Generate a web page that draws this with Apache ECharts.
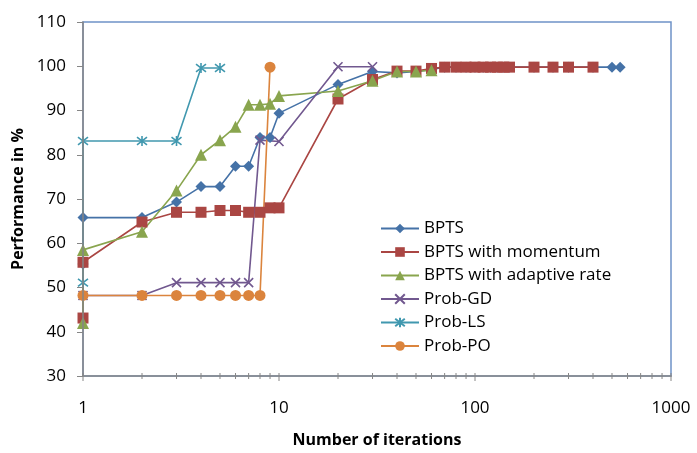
<!DOCTYPE html>
<html>
<head>
<meta charset="utf-8">
<script src="https://cdn.jsdelivr.net/npm/echarts@6/dist/echarts.min.js"></script>
<style>
  html, body { margin: 0; padding: 0; background: #fff; }
  #chart { width: 697px; height: 453px; }
</style>
</head>
<body>
<div id="chart"></div>
<script>
// ---- data ----
const seriesNames = ['BPTS', 'BPTS with momentum', 'BPTS with adaptive rate', 'Prob-GD', 'Prob-LS', 'Prob-PO'];

const xBPTS = [1, 1, 2, 3, 4, 5, 6, 7, 8, 9, 10, 20, 30, 40, 50, 60, 70, 80, 90, 100, 110, 120, 130, 140, 150, 200, 250, 300, 400, 500, 550];
const yBPTS = [55.3, 65.8, 65.8, 69.3, 72.8, 72.8, 77.4, 77.4, 83.9, 83.9, 89.4, 95.9, 98.8, 98.5, 98.8, 99.3, 99.8, 99.8, 99.8, 99.8, 99.8, 99.8, 99.8, 99.8, 99.8, 99.8, 99.8, 99.8, 99.8, 99.8, 99.8];

const xMomentum = [1, 1, 2, 3, 4, 5, 6, 7, 8, 9, 10, 20, 30, 40, 50, 60, 70, 80, 90, 100, 110, 120, 130, 140, 150, 200, 250, 300, 400];
const yMomentum = [43.1, 55.7, 64.8, 67.0, 67.0, 67.4, 67.4, 67.0, 67.0, 68.0, 68.0, 92.6, 97.0, 98.9, 98.9, 99.5, 99.8, 99.8, 99.8, 99.8, 99.8, 99.8, 99.8, 99.8, 99.8, 99.8, 99.8, 99.8, 99.8];

const xAdaptive = [1, 1, 2, 3, 4, 5, 6, 7, 8, 9, 10, 20, 30, 40, 50, 60];
const yAdaptive = [42.0, 58.5, 62.6, 71.9, 80.0, 83.3, 86.3, 91.3, 91.3, 91.5, 93.3, 94.4, 96.7, 98.8, 98.8, 99.1];

const xGD = [1, 2, 3, 4, 5, 6, 7, 8, 10, 20, 30];
const yGD = [48.2, 48.2, 51.1, 51.1, 51.1, 51.1, 51.1, 83.3, 83.0, 99.9, 99.9];

const xLS = [1, 1, 2, 3, 4, 5];
const yLS = [51.1, 83.1, 83.1, 83.1, 99.6, 99.6];

const xPO = [1, 2, 3, 4, 5, 6, 7, 8, 9];
const yPO = [48.2, 48.2, 48.2, 48.2, 48.2, 48.2, 48.2, 48.2, 99.8];

const xTickLabels = ['1', '10', '100', '1000'];
const majorTicks = [1, 10, 100, 1000];
const minorTicks = [2, 3, 4, 5, 6, 7, 8, 9, 20, 30, 40, 50, 60, 70, 80, 90, 200, 300, 400, 500, 600, 700, 800, 900];

// ---- build ----
function zip(xs, ys) { return xs.map((x, i) => [x, ys[i]]); }

const colors = ['#4572A7', '#AA4643', '#89A54E', '#71588F', '#4198AF', '#DB843D'];
const FONT = 'Open Sans';
const AXIS_COLOR = '#868686';

const pathDiamond = 'path://M5,0L10,5L5,10L0,5Z';
const pathX = 'path://M0,0L10,10M10,0L0,10';
const pathStar = 'path://M0,0L10,10M10,0L0,10M5,-1.5L5,11.5';

function lineSeries(idx, xs, ys, symbol, size, stroke) {
  const c = colors[idx];
  const s = {
    name: seriesNames[idx],
    type: 'line',
    data: zip(xs, ys),
    symbol: symbol,
    symbolSize: size,
    showSymbol: true,
    lineStyle: { color: c, width: 1.6 },
    itemStyle: { color: c },
    emphasis: { disabled: true },
    animation: false,
    z: 3
  };
  if (stroke) {
    s.itemStyle = { color: c, borderColor: c, borderWidth: 1.6 };
  }
  return s;
}

const tickData = majorTicks.map(v => [v, 30, 1]).concat(minorTicks.map(v => [v, 30, 0]));

const option = {
  backgroundColor: '#ffffff',
  animation: false,
  grid: {
    left: 83, right: 26, top: 22, bottom: 70,
    show: true, borderColor: '#6F93C8', borderWidth: 1.5, backgroundColor: 'transparent'
  },
  legend: {
    orient: 'vertical',
    left: 375, top: 215,
    itemWidth: 38, itemHeight: 12, itemGap: 6.5,
    data: seriesNames,
    textStyle: { fontFamily: FONT, fontSize: 17, color: '#000' },
    selectedMode: false
  },
  xAxis: {
    type: 'log', logBase: 10, min: 1, max: 1000,
    name: 'Number of iterations', nameLocation: 'middle', nameGap: 56,
    nameTextStyle: { fontFamily: FONT, fontSize: 16, fontWeight: 'bold', color: '#000' },
    axisLine: { show: true, lineStyle: { color: AXIS_COLOR, width: 1.5 } },
    axisTick: { show: false },
    splitLine: { show: false },
    axisLabel: {
      fontFamily: FONT, fontSize: 17, color: '#000', margin: 24,
      formatter: function (v) { const i = majorTicks.indexOf(Math.round(v)); return i >= 0 ? xTickLabels[i] : ''; }
    },
    z: 4
  },
  yAxis: {
    type: 'value', min: 30, max: 110, interval: 10,
    name: 'Performance in %', nameLocation: 'middle', nameGap: 56,
    nameTextStyle: { fontFamily: FONT, fontSize: 16, fontWeight: 'bold', color: '#000' },
    axisLine: { show: true, lineStyle: { color: AXIS_COLOR, width: 1.5 } },
    axisTick: { show: true, inside: false, length: 6, lineStyle: { color: AXIS_COLOR, width: 1 } },
    splitLine: { show: false },
    axisLabel: { fontFamily: FONT, fontSize: 17, color: '#000', margin: 17 },
    z: 4
  },
  series: [
    lineSeries(0, xBPTS, yBPTS, pathDiamond, 11),
    lineSeries(1, xMomentum, yMomentum, 'rect', 11),
    lineSeries(2, xAdaptive, yAdaptive, 'triangle', 12),
    lineSeries(3, xGD, yGD, pathX, 9, true),
    lineSeries(4, xLS, yLS, pathStar, 10, true),
    lineSeries(5, xPO, yPO, 'circle', 11),
    {
      type: 'custom',
      name: 'xticks',
      silent: true,
      clip: false,
      data: tickData,
      encode: { x: 0, y: 1 },
      z: 5,
      animation: false,
      renderItem: function (params, api) {
        const p = api.coord([api.value(0), api.value(1)]);
        const major = api.value(2) === 1;
        return {
          type: 'line',
          shape: { x1: p[0], y1: p[1] - 3, x2: p[0], y2: p[1] + (major ? 5 : 3) },
          style: { stroke: AXIS_COLOR, lineWidth: 1 }
        };
      }
    }
  ]
};

const chart = echarts.init(document.getElementById('chart'), null, { renderer: 'canvas' });
chart.setOption(option);
</script>
</body>
</html>
